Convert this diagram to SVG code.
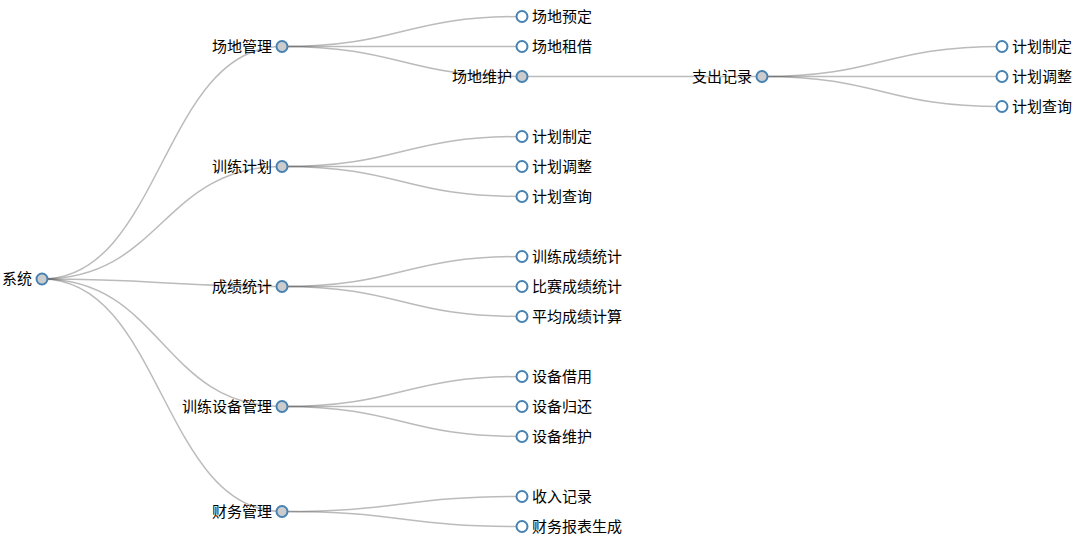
<svg xmlns="http://www.w3.org/2000/svg" width="1091" height="543" viewBox="0 0 1091 543">
<style>
.link{fill:none;stroke:#555;stroke-opacity:0.4;stroke-width:1.5}
.node circle{stroke:#4682b4;stroke-width:2}
.inner circle{fill:#ccc}
.leaf circle{fill:#fff}
.node text{font-family:"Noto Sans CJK SC","Microsoft YaHei",sans-serif;font-size:15px;fill:#000}
.inner text{text-anchor:end}
.leaf text{text-anchor:start}
</style>
<rect width="1091" height="543" fill="#fff"/>
<g id="tree" transform="translate(0,0.5)">
<g id="links">
<path class="link" d="M42,278.5C162,278.5 162,46 282,46"/>
<path class="link" d="M42,278.5C162,278.5 162,166 282,166"/>
<path class="link" d="M42,278.5C162,278.5 162,286 282,286"/>
<path class="link" d="M42,278.5C162,278.5 162,406 282,406"/>
<path class="link" d="M42,278.5C162,278.5 162,511 282,511"/>
<path class="link" d="M282,46C402,46 402,16 522,16"/>
<path class="link" d="M282,46C402,46 402,46 522,46"/>
<path class="link" d="M282,46C402,46 402,76 522,76"/>
<path class="link" d="M282,166C402,166 402,136 522,136"/>
<path class="link" d="M282,166C402,166 402,166 522,166"/>
<path class="link" d="M282,166C402,166 402,196 522,196"/>
<path class="link" d="M282,286C402,286 402,256 522,256"/>
<path class="link" d="M282,286C402,286 402,286 522,286"/>
<path class="link" d="M282,286C402,286 402,316 522,316"/>
<path class="link" d="M282,406C402,406 402,376 522,376"/>
<path class="link" d="M282,406C402,406 402,406 522,406"/>
<path class="link" d="M282,406C402,406 402,436 522,436"/>
<path class="link" d="M282,511C402,511 402,496 522,496"/>
<path class="link" d="M282,511C402,511 402,526 522,526"/>
<path class="link" d="M522,76C642,76 642,76 762,76"/>
<path class="link" d="M762,76C882,76 882,46 1002,46"/>
<path class="link" d="M762,76C882,76 882,76 1002,76"/>
<path class="link" d="M762,76C882,76 882,106 1002,106"/>
</g>
<g id="node-root" class="node inner" transform="translate(42,278.5)"><circle r="5.5"/><text x="-10" dy="0.35em">系统</text></g>
<g id="node-venue" class="node inner" transform="translate(282,46)"><circle r="5.5"/><text x="-10" dy="0.35em">场地管理</text></g>
<g id="node-training" class="node inner" transform="translate(282,166)"><circle r="5.5"/><text x="-10" dy="0.35em">训练计划</text></g>
<g id="node-score" class="node inner" transform="translate(282,286)"><circle r="5.5"/><text x="-10" dy="0.35em">成绩统计</text></g>
<g id="node-equipment" class="node inner" transform="translate(282,406)"><circle r="5.5"/><text x="-10" dy="0.35em">训练设备管理</text></g>
<g id="node-finance" class="node inner" transform="translate(282,511)"><circle r="5.5"/><text x="-10" dy="0.35em">财务管理</text></g>
<g id="node-venue-book" class="node leaf" transform="translate(522,16)"><circle r="5.5"/><text x="10" dy="0.35em">场地预定</text></g>
<g id="node-venue-rent" class="node leaf" transform="translate(522,46)"><circle r="5.5"/><text x="10" dy="0.35em">场地租借</text></g>
<g id="node-venue-maint" class="node inner" transform="translate(522,76)"><circle r="5.5"/><text x="-10" dy="0.35em">场地维护</text></g>
<g id="node-plan-make" class="node leaf" transform="translate(522,136)"><circle r="5.5"/><text x="10" dy="0.35em">计划制定</text></g>
<g id="node-plan-adjust" class="node leaf" transform="translate(522,166)"><circle r="5.5"/><text x="10" dy="0.35em">计划调整</text></g>
<g id="node-plan-query" class="node leaf" transform="translate(522,196)"><circle r="5.5"/><text x="10" dy="0.35em">计划查询</text></g>
<g id="node-score-train" class="node leaf" transform="translate(522,256)"><circle r="5.5"/><text x="10" dy="0.35em">训练成绩统计</text></g>
<g id="node-score-match" class="node leaf" transform="translate(522,286)"><circle r="5.5"/><text x="10" dy="0.35em">比赛成绩统计</text></g>
<g id="node-score-avg" class="node leaf" transform="translate(522,316)"><circle r="5.5"/><text x="10" dy="0.35em">平均成绩计算</text></g>
<g id="node-equip-borrow" class="node leaf" transform="translate(522,376)"><circle r="5.5"/><text x="10" dy="0.35em">设备借用</text></g>
<g id="node-equip-return" class="node leaf" transform="translate(522,406)"><circle r="5.5"/><text x="10" dy="0.35em">设备归还</text></g>
<g id="node-equip-maint" class="node leaf" transform="translate(522,436)"><circle r="5.5"/><text x="10" dy="0.35em">设备维护</text></g>
<g id="node-income" class="node leaf" transform="translate(522,496)"><circle r="5.5"/><text x="10" dy="0.35em">收入记录</text></g>
<g id="node-report" class="node leaf" transform="translate(522,526)"><circle r="5.5"/><text x="10" dy="0.35em">财务报表生成</text></g>
<g id="node-expense" class="node inner" transform="translate(762,76)"><circle r="5.5"/><text x="-10" dy="0.35em">支出记录</text></g>
<g id="node-exp-plan-make" class="node leaf" transform="translate(1002,46)"><circle r="5.5"/><text x="10" dy="0.35em">计划制定</text></g>
<g id="node-exp-plan-adjust" class="node leaf" transform="translate(1002,76)"><circle r="5.5"/><text x="10" dy="0.35em">计划调整</text></g>
<g id="node-exp-plan-query" class="node leaf" transform="translate(1002,106)"><circle r="5.5"/><text x="10" dy="0.35em">计划查询</text></g>
</g>
</svg>
